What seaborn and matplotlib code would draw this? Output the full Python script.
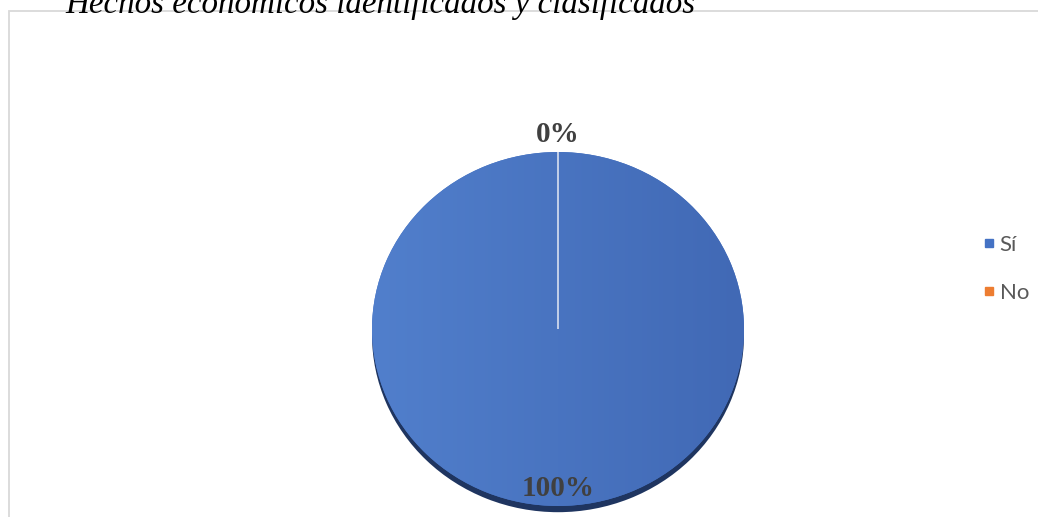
import numpy as np
import matplotlib
matplotlib.use("Agg")
import matplotlib.pyplot as plt
import matplotlib.patches as mpatches
from matplotlib.lines import Line2D
from matplotlib import font_manager as fm
from matplotlib.colors import LinearSegmentedColormap
import seaborn as sns

# ---- data ----
categories = ["Sí", "No"]
values = [100, 0]
pct_labels = ["100%", "0%"]
title = "Hechos económicos identificados y clasificados"

sns.set_theme(style="white")
plt.rcParams["font.family"] = ["DejaVu Sans"]


def find_font(name, italic=False, bold=False):
    best = None
    for f in fm.fontManager.ttflist:
        if f.name == name:
            it = f.style in ("italic", "oblique")
            bd = (f.weight in ("bold", 700) or (isinstance(f.weight, int) and f.weight >= 600))
            if it == italic and bd == bold:
                return fm.FontProperties(fname=f.fname)
            if best is None:
                best = f
    if best is not None:
        return fm.FontProperties(family=name, style="italic" if italic else "normal",
                                 weight="bold" if bold else "normal")
    return fm.FontProperties(family="serif", style="italic" if italic else "normal",
                             weight="bold" if bold else "normal")


title_fp = find_font("Liberation Serif", italic=True)
title_fp.set_size(23.8)
lab_fp = find_font("Liberation Serif", bold=True)
lab_fp.set_size(21)

colors = ["#4472C4", "#ED7D31"]

W, H = 1038, 517
fig = plt.figure(figsize=(W / 100, H / 100), dpi=100)
fig.patch.set_facecolor("white")

# chart frame (light gray border, partially off-canvas)
frame = mpatches.Rectangle((8.5 / W, -0.2), 1.5, (H - 10.5) / H + 0.2,
                           transform=fig.transFigure, fill=False,
                           edgecolor="#d9d9d9", linewidth=1.3, zorder=0)
fig.patches.append(frame)

# title (cut at top)
fig.text(65 / W, 1 - 13 / H, title, fontproperties=title_fp,
         color="black", ha="left", va="baseline")

cx, cy, rx, ry = 558, 329, 186, 177
ax = fig.add_axes([(cx - rx) / W, (H - cy - ry) / H, 2 * rx / W, 2 * ry / H])

# shadow
ax.pie(values, colors=["#1f3560", "#1f3560"], startangle=90, counterclock=False,
       radius=1.0, center=(0, -0.035), wedgeprops=dict(linewidth=0))

wedges, _ = ax.pie(values, colors=colors, startangle=90, counterclock=False,
                   radius=1.0, wedgeprops=dict(linewidth=0))
wedges[0].set_edgecolor("none")
wedges[1].set_edgecolor("#d8e0f0")
wedges[1].set_linewidth(1.2)

# gradient fill on the main wedge
grad = np.linspace(0, 1, 256)[None, :]
cmap = LinearSegmentedColormap.from_list("g", ["#517fcc", "#4169b5"])
im = ax.imshow(grad, extent=(-1, 1, -1, 1), cmap=cmap, aspect="auto", zorder=1.5)
im.set_clip_path(wedges[0])
wedges[1].set_zorder(2)

ax.set_aspect("auto")
ax.set_xlim(-1, 1)
ax.set_ylim(-1, 1)
ax.axis("off")

# data labels
dists = [0.90, 1.10]
for w, lab, d in zip(wedges, pct_labels, dists):
    ang = np.deg2rad((w.theta1 + w.theta2) / 2)
    if abs(w.theta2 - w.theta1) >= 359.9:
        ang = np.deg2rad(-90)
    x, y = d * np.cos(ang), d * np.sin(ang)
    ax.text(x, y, lab, fontproperties=lab_fp, color="#404040",
            ha="center", va="center", zorder=5)

# legend
handles = [Line2D([0], [0], marker="s", linestyle="none", markersize=6,
                  markerfacecolor=c, markeredgecolor=c) for c in colors]
fig.legend(handles, categories, loc="center left",
           bbox_to_anchor=(962 / W, 1 - 269 / H), frameon=False,
           prop=dict(family="Lato", size=16), labelcolor="#595959",
           handlelength=0.6, handletextpad=0.2, labelspacing=1.25)

fig.savefig("out.png", dpi=100)
